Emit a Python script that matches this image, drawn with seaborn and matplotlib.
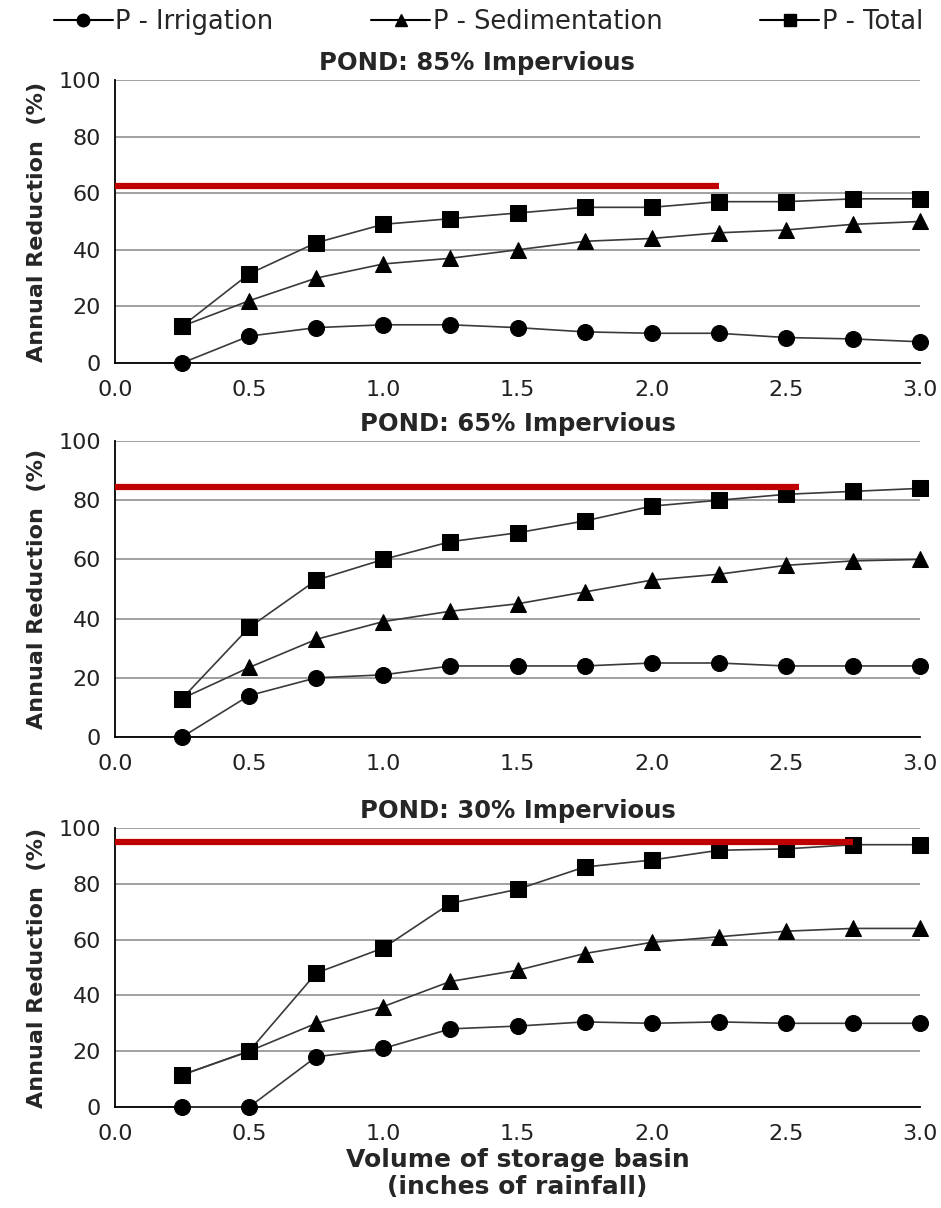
import numpy as np
import pandas as pd
import matplotlib
matplotlib.use("Agg")
import matplotlib.pyplot as plt
from matplotlib import font_manager
from matplotlib.lines import Line2D
import seaborn as sns

# ---------------- data ----------------
volume = [0.25, 0.5, 0.75, 1.0, 1.25, 1.5, 1.75, 2.0, 2.25, 2.5, 2.75, 3.0]
series_names = ["P - Irrigation", "P - Sedimentation", "P - Total"]
panel_titles = ["POND: 85% Impervious", "POND: 65% Impervious", "POND: 30% Impervious"]

irr_85 = [0, 9.5, 12.5, 13.5, 13.5, 12.5, 11, 10.5, 10.5, 9, 8.5, 7.5]
sed_85 = [13, 22, 30, 35, 37, 40, 43, 44, 46, 47, 49, 50]
tot_85 = [13, 31.5, 42.5, 49, 51, 53, 55, 55, 57, 57, 58, 58]

irr_65 = [0, 14, 20, 21, 24, 24, 24, 25, 25, 24, 24, 24]
sed_65 = [13, 23.5, 33, 39, 42.5, 45, 49, 53, 55, 58, 59.5, 60]
tot_65 = [13, 37, 53, 60, 66, 69, 73, 78, 80, 82, 83, 84]

irr_30 = [0, 0, 18, 21, 28, 29, 30.5, 30, 30.5, 30, 30, 30]
sed_30 = [11.5, 20, 30, 36, 45, 49, 55, 59, 61, 63, 64, 64]
tot_30 = [11.5, 20, 48, 57, 73, 78, 86, 88.5, 92, 92.5, 94, 94]

target_level = [62.5, 84.5, 95]
target_end = [2.25, 2.55, 2.75]

x_ticks = [0.0, 0.5, 1.0, 1.5, 2.0, 2.5, 3.0]
y_ticks = [0, 20, 40, 60, 80, 100]

panels = [(irr_85, sed_85, tot_85), (irr_65, sed_65, tot_65), (irr_30, sed_30, tot_30)]
markers = {"P - Irrigation": "o", "P - Sedimentation": "^", "P - Total": "s"}

# ---------------- style ----------------
sns.set_style("white")
avail = {f.name for f in font_manager.fontManager.ttflist}
narrow = "DejaVu Sans"
for cand in ["Liberation Sans Narrow", "Arial Narrow", "DejaVu Sans Condensed"]:
    if cand in avail:
        narrow = cand
        break
plt.rcParams["font.family"] = [narrow, "DejaVu Sans"]

fig = plt.figure(figsize=(9.41, 12.08), dpi=100)
positions = [
    [0.1222, 0.6995, 0.8555, 0.2343],
    [0.1222, 0.3899, 0.8555, 0.2450],
    [0.1222, 0.0836, 0.8555, 0.2310],
]
title_x = [0.45, 0.5, 0.5]

for i, (pos, vals, title) in enumerate(zip(positions, panels, panel_titles)):
    ax = fig.add_axes(pos)
    df = pd.DataFrame({
        "volume": volume * 3,
        "value": vals[0] + vals[1] + vals[2],
        "series": sum([[n] * len(volume) for n in series_names], []),
    })
    sns.lineplot(data=df, x="volume", y="value", hue="series", style="series",
                 markers=markers, dashes=False,
                 palette={n: "#3a3a3a" for n in series_names},
                 markersize=11.5, linewidth=1.2, ax=ax, legend=False, zorder=3)
    for ln in ax.lines:
        ln.set_markerfacecolor("black")
        ln.set_markeredgecolor("black")
        ln.set_clip_on(False)
    ax.hlines(target_level[i], 0, target_end[i], color="#C00000", lw=4.5, zorder=4)

    ax.set_xlim(0, 3.0)
    ax.set_ylim(0, 100)
    ax.set_xticks(x_ticks)
    ax.set_xticklabels([f"{t:.1f}" for t in x_ticks])
    ax.set_yticks(y_ticks)
    ax.yaxis.grid(True, color="#999999", lw=1.3)
    ax.xaxis.grid(False)
    for s in ["top", "right"]:
        ax.spines[s].set_visible(False)
    for s in ["left", "bottom"]:
        ax.spines[s].set_color("black")
        ax.spines[s].set_linewidth(1.3)
    ax.tick_params(axis="both", which="major", direction="out", length=5, width=1.2,
                   color="black", labelsize=16, labelcolor="#222222")
    ax.tick_params(axis="x", pad=7)
    ax.tick_params(axis="y", pad=5)
    ax.set_xlabel("")
    ax.set_ylabel("Annual Reduction  (%)", fontsize=16, fontweight="bold", labelpad=8)
    ax.set_title(title, x=title_x[i], fontsize=17.5, fontweight="bold", pad=7)
    if i == 2:
        ax.set_xlabel("Volume of storage basin\n(inches of rainfall)", fontsize=18,
                      fontweight="bold", labelpad=3, linespacing=1.15)

handles = [Line2D([0], [0], color="black", lw=1.5, marker=markers[n], markersize=9,
                  markerfacecolor="black", markeredgecolor="black") for n in series_names]
fig.legend(handles, series_names, loc="center", bbox_to_anchor=(0.519, 0.982), ncol=3,
           frameon=False, fontsize=18.5, handlelength=2.3, handletextpad=0.1,
           columnspacing=3.8)

fig.savefig("out.png", dpi=100)
